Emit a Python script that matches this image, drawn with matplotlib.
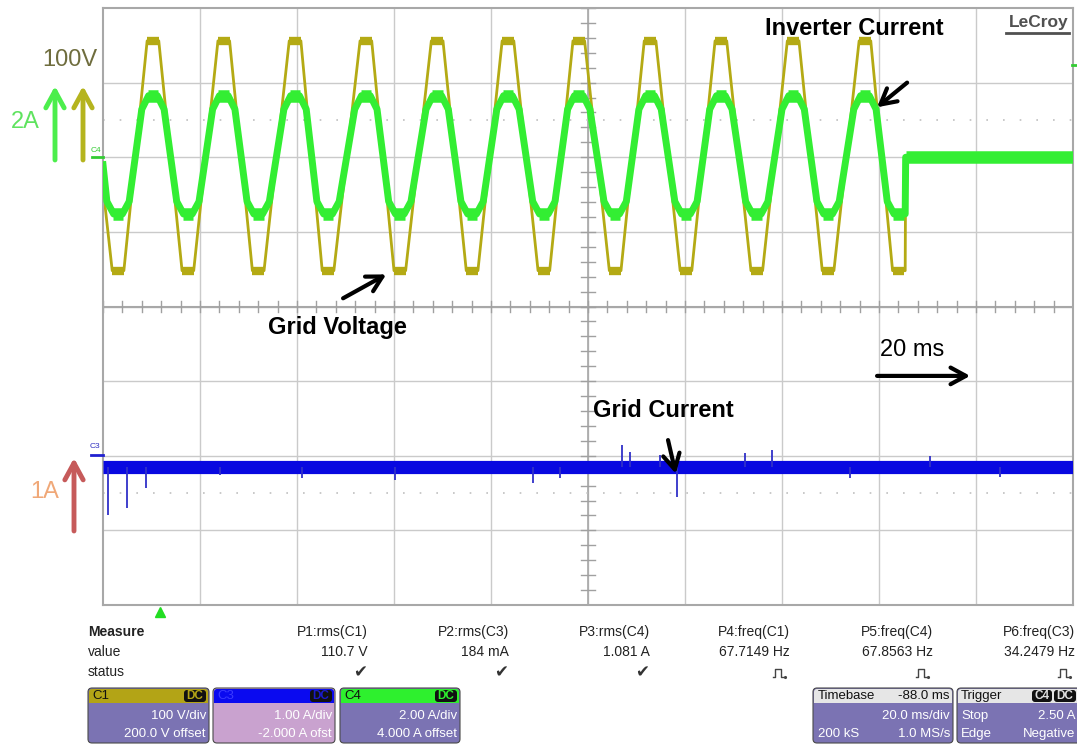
import numpy as np
import matplotlib.pyplot as plt
from matplotlib.patches import FancyBboxPatch, Rectangle

# traces: time in ms (20 ms/div), values in V / A
ext_t = [3.1, 10.3, 17.5, 24.9, 32.0, 39.6, 46.4, 54.2, 61.2, 68.9, 76.1, 83.5,
         90.9, 98.1, 105.6, 112.8, 120.2, 127.4, 134.8, 142.3, 149.5, 157.1, 164.0]
volt_ext = [-152, 156] * 11 + [-152]
inv_ext = [-1.52, 1.65] * 11 + [-1.52]
volt_start, inv_start = -40.0, -0.2
t_stop = 165.4
t_end = 200.0
volt_idle, inv_idle = 0.0, 0.0
# rounded shoulder of the current wave: (offset from extreme in ms, fraction of extreme)
inv_shoulder = [(-2.3, 0.78), (-0.9, 1.0), (0.9, 1.0), (2.3, 0.78)]

grid_level = -0.15
spike_t = [1.0, 4.9, 8.9, 24.1, 41.0, 60.2, 88.7, 94.2, 107.0, 108.7, 114.8,
           118.4, 132.4, 137.9, 154.0, 170.5, 185.0]
spike_i = [-0.79, -0.70, -0.43, -0.26, -0.30, -0.33, -0.37, -0.30, 0.14, 0.05,
           0.01, -0.55, 0.04, 0.08, -0.30, 0.0, -0.28]

# channel scales (per div) and zero positions (div from bottom of grid)
VOLT_DIV, VOLT_ZERO = 100.0, 6.0
INV_DIV, INV_ZERO = 2.0, 6.0
GRID_DIV, GRID_ZERO = 1.0, 2.0

meas_names = ['P1:rms(C1)', 'P2:rms(C3)', 'P3:rms(C4)', 'P4:freq(C1)', 'P5:freq(C4)', 'P6:freq(C3)']
meas_values = ['110.7 V', '184 mA', '1.081 A', '67.7149 Hz', '67.8563 Hz', '34.2479 Hz']
meas_ok = [True, True, True, False, False, False]

VOLT_C = '#b4aa14'
INV_C = '#33ee33'
GRID_C = '#0808e0'
BODY_C = '#7b73b3'
FONT = ['Liberation Sans', 'DejaVu Sans']


def build(t_ext, v_ext, start, shape, idle):
   ts, vs = [0.0], [start]
   for t, v in zip(t_ext, v_ext):
      for dt, f in shape:
         if t + dt <= t_stop:
            ts.append(t + dt)
            vs.append(v * f)
   ts.append(t_stop)
   vs.append(v_ext[-1])
   ts += [t_stop + 0.1, t_end]
   vs += [idle, idle]
   return np.array(ts), np.array(vs)


fig = plt.figure(figsize=(10.77, 7.46), dpi=100)
W, H = 1077, 746

ax = fig.add_axes([103 / W, (H - 605) / H, 970 / W, 597 / H])
ax.set_xlim(0, 200)
ax.set_ylim(0, 8)
ax.set_xticks([])
ax.set_yticks([])
for s in ax.spines.values():
   s.set_color('#a8a8a8')
   s.set_linewidth(1.5)

grid_c = '#cacaca'
for x in range(20, 200, 20):
   ax.axvline(x, color=grid_c, lw=1, zorder=0)
for y in range(1, 8):
   ax.axhline(y, color=grid_c, lw=1, zorder=0)
ax.axhline(4, color='#a8a8a8', lw=1.5, zorder=0)
ax.axvline(100, color='#a8a8a8', lw=1.2, zorder=0)
for x in np.arange(0, 200.1, 4):
   ax.plot([x, x], [3.93, 4.07], color='#a0a0a0', lw=1, zorder=0)
for y in np.arange(0, 8.01, 0.2):
   ax.plot([98.6, 101.4], [y, y], color='#a0a0a0', lw=1, zorder=0)
for y in (6.5, 1.5):
   ax.axhline(y, color='#c0c0c0', lw=1.2, ls=(0, (1, 9)), zorder=0)

# grid voltage (C1)
vt, vv = build(ext_t, volt_ext, volt_start, [(-1.2, 1.0), (1.2, 1.0)], volt_idle)
ax.plot(vt, vv / VOLT_DIV + VOLT_ZERO, color=VOLT_C, lw=2, zorder=2)
for t, v in zip(ext_t, volt_ext):
   ax.plot([t - 1.2, min(t + 1.2, t_stop)], [v / VOLT_DIV + VOLT_ZERO] * 2,
           color=VOLT_C, lw=6, solid_capstyle='butt', zorder=2)

# inverter current (C4)
it, iv = build(ext_t, inv_ext, inv_start, inv_shoulder, inv_idle)
ax.plot(it, iv / INV_DIV + INV_ZERO, color=INV_C, lw=5, zorder=3)
for t, v in zip(ext_t, inv_ext):
   ax.plot([t - 1.1, min(t + 1.1, t_stop)], [v / INV_DIV + INV_ZERO] * 2,
           color=INV_C, lw=9, solid_capstyle='butt', zorder=3)
ax.plot([t_stop + 0.1, t_end], [inv_idle / INV_DIV + INV_ZERO] * 2,
        color=INV_C, lw=9, solid_capstyle='butt', zorder=3)

# grid current (C3)
ax.plot([0, t_end], [grid_level / GRID_DIV + GRID_ZERO] * 2, color=GRID_C, lw=9.5,
        solid_capstyle='butt', zorder=3)
ax.vlines(spike_t, grid_level / GRID_DIV + GRID_ZERO,
          np.array(spike_i) / GRID_DIV + GRID_ZERO, color='#3030c8', lw=1.3, zorder=3)

# annotations
arrow = dict(arrowstyle='->,head_length=0.55,head_width=0.3', lw=3, color='black',
             mutation_scale=20, shrinkA=0, shrinkB=0)
ax.text(136.5, 7.73, 'Inverter Current', fontsize=17, fontweight='bold', family=FONT,
        va='center', ha='left', zorder=5)
ax.annotate('', xy=(159.6, 6.67), xytext=(165.8, 7.0), arrowprops=arrow, zorder=5)
ax.text(34.0, 3.72, 'Grid Voltage', fontsize=17, fontweight='bold', family=FONT,
        va='center', ha='left', zorder=5)
ax.annotate('', xy=(58.4, 4.43), xytext=(49.5, 4.11), arrowprops=arrow, zorder=5)
ax.text(160.2, 3.42, '20 ms', fontsize=17, family=FONT, va='center', ha='left', zorder=5)
ax.annotate('', xy=(178.8, 3.07), xytext=(159.6, 3.07), arrowprops=arrow, zorder=5)
ax.text(101.0, 2.61, 'Grid Current', fontsize=17, fontweight='bold', family=FONT,
        va='center', ha='left', zorder=5)
ax.annotate('', xy=(118.1, 1.76), xytext=(116.5, 2.21), arrowprops=arrow, zorder=5)

# overlay in pixel coordinates for the scope screen furniture
ov = fig.add_axes([0, 0, 1, 1], facecolor='none')
ov.set_xlim(0, W)
ov.set_ylim(H, 0)
ov.axis('off')

ov.text(70, 60, '100V', color='#6f6d3e', fontsize=17, family=FONT, ha='center', va='center')
ov.text(25, 122, '2A', color='#5fe35f', fontsize=17, family=FONT, ha='center', va='center')
ov.text(45, 492, '1A', color='#f0a878', fontsize=17, family=FONT, ha='center', va='center')
side = dict(arrowstyle='->,head_length=0.55,head_width=0.3', lw=3.5, mutation_scale=22,
            shrinkA=0, shrinkB=0)
ov.annotate('', xy=(55, 86), xytext=(55, 160), arrowprops=dict(side, color='#4cee4c'))
ov.annotate('', xy=(83, 86), xytext=(83, 160), arrowprops=dict(side, color='#b5b41e'))
ov.annotate('', xy=(74, 458), xytext=(74, 531), arrowprops=dict(side, color='#c65a5a'))

ov.text(91, 150, 'C4', color='#33cc33', fontsize=6, family=FONT, ha='left', va='center')
ov.plot([92, 103], [157, 157], color='#33cc33', lw=2)
ov.text(90, 446, 'C3', color='#3030c0', fontsize=6, family=FONT, ha='left', va='center')
ov.plot([91, 103], [455, 455], color='#2020d0', lw=2)
ov.plot([1072, 1077], [65, 65], color='#33cc33', lw=2)
ov.plot([160], [612], marker='^', color='#22dd22', ms=7)

ov.text(1069, 22, 'LeCroy', color='#505050', fontsize=12.5, fontweight='bold', family=FONT,
        ha='right', va='center')
ov.plot([1006, 1069], [33, 33], color='#505050', lw=2)

# measurement table
tf = dict(fontsize=10, family=FONT, color='#222222', va='center')
ov.text(88, 632, 'Measure', fontweight='bold', ha='left', **tf)
ov.text(88, 652, 'value', ha='left', **tf)
ov.text(88, 672, 'status', ha='left', **tf)
col_right = [368, 509, 650, 790, 933, 1075]
for xr, name, val, ok in zip(col_right, meas_names, meas_values, meas_ok):
   ov.text(xr, 632, name, ha='right', **tf)
   ov.text(xr, 652, val, ha='right', **tf)
   if ok:
      ov.text(xr - 1, 673, '\u2714', ha='right', fontsize=12, family=FONT,
              color='#333333', va='center')
   else:
      # pulse symbol, no installed font has the glyph
      px, py = xr - 12, 673
      ov.plot([px - 5, px - 3, px - 3, px + 3, px + 3, px + 5],
              [py + 4, py + 4, py - 4, py - 4, py + 4, py + 4], color='#444444', lw=1)
      ov.plot([px + 6.5], [py + 4], marker='.', color='#444444', ms=2.5)


def rbox(x, y, w, h, fc, ec='#4a4a4a', lw=0.8, r=4):
   ov.add_patch(FancyBboxPatch((x, y), w, h, boxstyle=f'round,pad=0,rounding_size={r}',
                               fc=fc, ec=ec, lw=lw))


def chan_box(x, w, head_c, name, name_c, dc_c, line1, line2, body_c=BODY_C):
   rbox(x, 688, w, 55, body_c)
   rbox(x + 1, 689, w - 2, 14, head_c, ec='none', r=3)
   ov.add_patch(Rectangle((x + 1, 697), w - 2, 6, fc=head_c, ec='none'))
   ov.text(x + 4, 696, name, color=name_c, fontsize=9.5, family=FONT, ha='left', va='center')
   rbox(x + w - 25, 690, 22, 12, '#111111', ec='none', r=3)
   ov.text(x + w - 14, 696, 'DC', color=dc_c, fontsize=8.5, fontweight='bold', family=FONT,
           ha='center', va='center')
   ov.text(x + w - 3, 716, line1, color='white', fontsize=9.5, family=FONT, ha='right', va='center')
   ov.text(x + w - 3, 734, line2, color='white', fontsize=9.5, family=FONT, ha='right', va='center')


chan_box(88, 121, '#b3a416', 'C1', '#111111', '#b3a416', '100 V/div', '200.0 V offset')
chan_box(213, 122, '#0a0af0', 'C3', '#3a3aff', '#1a1acc', '1.00 A/div', '-2.000 A ofst',
         body_c='#c9a2cf')
chan_box(340, 120, '#2ef02e', 'C4', '#111111', '#2ef02e', '2.00 A/div', '4.000 A offset')

# timebase box
rbox(813, 688, 140, 55, BODY_C)
rbox(814, 689, 138, 14, '#e6e6e6', ec='none', r=3)
ov.add_patch(Rectangle((814, 697), 138, 6, fc='#e6e6e6', ec='none'))
bf = dict(fontsize=9.5, family=FONT, va='center')
ov.text(818, 696, 'Timebase', color='#111111', ha='left', **bf)
ov.text(950, 696, '-88.0 ms', color='#111111', ha='right', **bf)
ov.text(950, 716, '20.0 ms/div', color='white', ha='right', **bf)
ov.text(818, 734, '200 kS', color='white', ha='left', **bf)
ov.text(950, 734, '1.0 MS/s', color='white', ha='right', **bf)

# trigger box
rbox(957, 688, 124, 55, BODY_C)
rbox(958, 689, 122, 14, '#e6e6e6', ec='none', r=3)
ov.add_patch(Rectangle((958, 697), 122, 6, fc='#e6e6e6', ec='none'))
ov.text(961, 696, 'Trigger', color='#111111', ha='left', **bf)
rbox(1032, 690, 20, 12, '#111111', ec='none', r=3)
ov.text(1042, 696, 'C4', color='#e0e0e0', fontsize=8.5, fontweight='bold', family=FONT,
        ha='center', va='center')
rbox(1054, 690, 22, 12, '#111111', ec='none', r=3)
ov.text(1065, 696, 'DC', color='#e0e0e0', fontsize=8.5, fontweight='bold', family=FONT,
        ha='center', va='center')
ov.text(961, 716, 'Stop', color='white', ha='left', **bf)
ov.text(1075, 716, '2.50 A', color='white', ha='right', **bf)
ov.text(961, 734, 'Edge', color='white', ha='left', **bf)
ov.text(1075, 734, 'Negative', color='white', ha='right', **bf)

fig.savefig('out.png', dpi=100)
